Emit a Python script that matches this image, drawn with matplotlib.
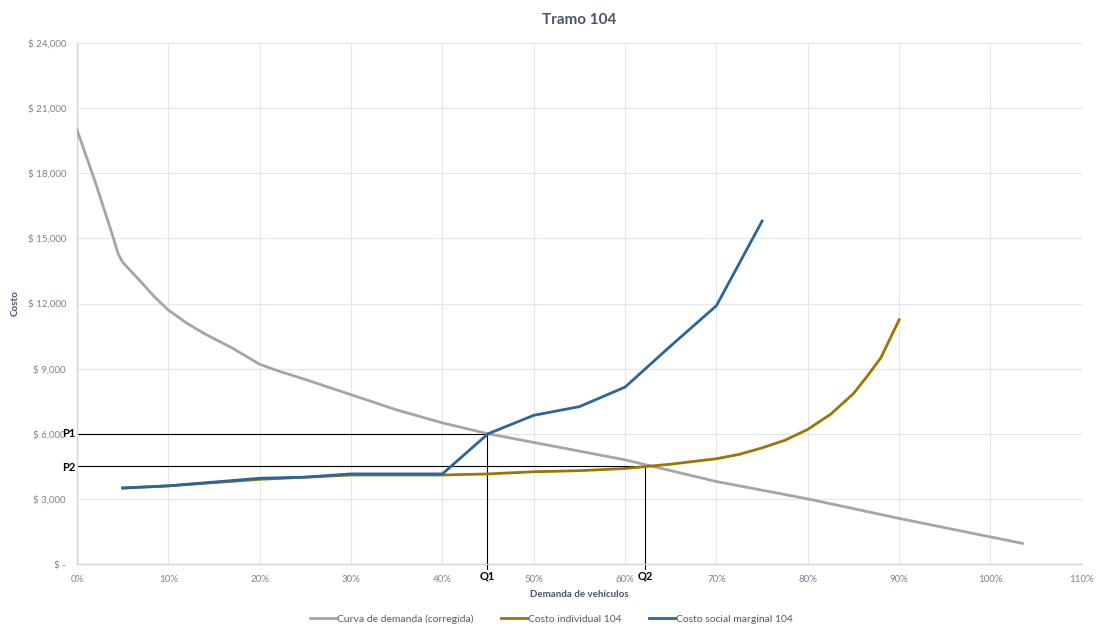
import matplotlib.pyplot as plt
from matplotlib.ticker import FuncFormatter, MultipleLocator

plt.rcParams['font.family'] = ['Lato', 'DejaVu Sans']

# Curva de demanda (corregida): fraccion de demanda vs costo
dem_x = [0.00, 0.02, 0.04, 0.045, 0.05, 0.07, 0.085, 0.10, 0.12, 0.14, 0.17, 0.19, 0.20,
         0.22, 0.25, 0.30, 0.35, 0.40, 0.45, 0.50, 0.55, 0.60, 0.63, 0.70, 0.80, 0.90, 1.035]
dem_y = [20000, 17600, 15000, 14300, 13900, 13000, 12300, 11700, 11100, 10600, 9950, 9450, 9200,
         8900, 8500, 7800, 7100, 6500, 6000, 5600, 5200, 4800, 4500, 3800, 3000, 2100, 950]

# Costo individual 104
ind_x = [0.05, 0.10, 0.20, 0.25, 0.30, 0.40, 0.45, 0.50, 0.55, 0.60, 0.625, 0.65,
         0.70, 0.725, 0.75, 0.775, 0.80, 0.825, 0.85, 0.865, 0.88, 0.90]
ind_y = [3500, 3600, 3900, 4000, 4100, 4100, 4150, 4250, 4300, 4400, 4500, 4600,
         4850, 5050, 5350, 5700, 6200, 6900, 7850, 8650, 9500, 11250]

# Costo social marginal 104
soc_x = [0.05, 0.10, 0.20, 0.25, 0.30, 0.40, 0.45, 0.50, 0.55, 0.60, 0.65, 0.70, 0.75]
soc_y = [3500, 3600, 3950, 4000, 4150, 4150, 6000, 6850, 7250, 8150, 10050, 11900, 15800]

# equilibrios
q1, p1 = 0.449, 6000
q2, p2 = 0.622, 4500

fig = plt.figure(figsize=(11.03, 6.33), dpi=100)
ax = fig.add_axes([0.0698, 0.109, 0.911, 0.823])

ax.plot(dem_x, dem_y, color='#A5A5A5', lw=2.0, label='Curva de demanda (corregida)', zorder=3,
        solid_joinstyle='round')
ax.plot(ind_x, ind_y, color='#9C7600', lw=2.0, label='Costo individual 104', zorder=4,
        solid_joinstyle='round')
ax.plot(soc_x, soc_y, color='#2C6598', lw=2.0, label='Costo social marginal 104', zorder=5,
        solid_joinstyle='round')

# lineas guia P1/Q1 y P2/Q2
ax.plot([0, q1, q1], [p1, p1, -250], color='black', lw=0.8, clip_on=False, zorder=2)
ax.plot([0, q2, q2], [p2, p2, -250], color='black', lw=0.8, clip_on=False, zorder=2)
ax.text(-0.002, p1, 'P1', ha='right', va='center', fontsize=8, fontweight='bold')
ax.text(-0.002, p2 - 50, 'P2', ha='right', va='center', fontsize=8, fontweight='bold')
ax.text(q1, -300, 'Q1', ha='center', va='top', fontsize=8, fontweight='bold')
ax.text(q2, -300, 'Q2', ha='center', va='top', fontsize=8, fontweight='bold')

ax.set_xlim(0, 1.10)
ax.set_ylim(0, 24000)
ax.xaxis.set_major_locator(MultipleLocator(0.10))
ax.yaxis.set_major_locator(MultipleLocator(3000))
ax.xaxis.set_major_formatter(FuncFormatter(lambda v, p: f'{v*100:.0f}%'))
ax.yaxis.set_major_formatter(FuncFormatter(lambda v, p: '$ -' if v == 0 else f'$ {v:,.0f}'))
ax.tick_params(length=0, labelsize=7, colors='#7A8290', pad=8)

ax.grid(True, color='#E4E6EE', lw=0.8)
ax.set_axisbelow(True)
for side in ['top', 'right']:
    ax.spines[side].set_visible(False)
for side in ['left', 'bottom']:
    ax.spines[side].set_color('#D0D4E0')
    ax.spines[side].set_linewidth(1.0)

ax.set_title('Tramo 104', fontsize=11, fontweight='bold', color='#4A5568', pad=14)
ax.set_xlabel('Demanda de vehículos', fontsize=7, fontweight='bold', color='#44546A', labelpad=4)
ax.set_ylabel('Costo', fontsize=7, fontweight='bold', color='#44546A')
ax.yaxis.set_label_coords(-0.057, 0.5)

fig.legend(loc='lower center', bbox_to_anchor=(0.5, 0.0), ncol=3, frameon=False,
           fontsize=7.5, handlelength=2.5, columnspacing=2.6, handletextpad=0.1,
           labelcolor='#595959')

fig.savefig('out.png', dpi=100)
